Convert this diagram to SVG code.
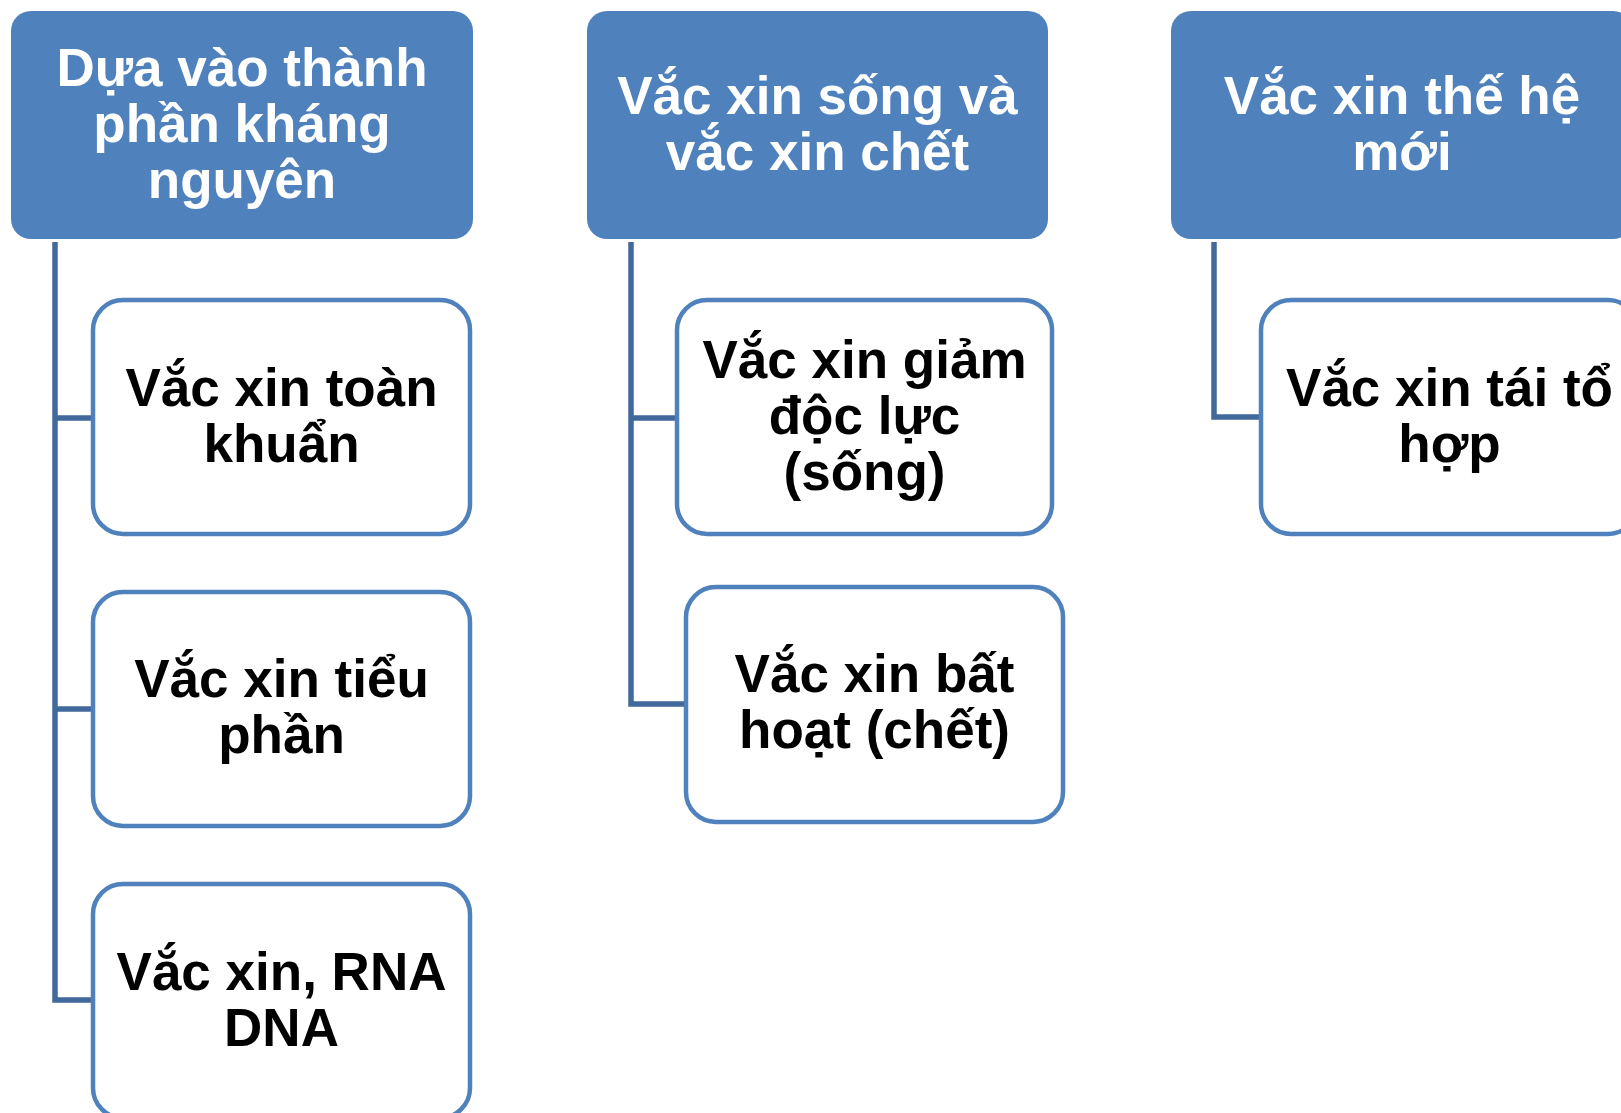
<svg xmlns="http://www.w3.org/2000/svg" width="1621" height="1113" viewBox="0 0 1621 1113">
<style>
.hdr{fill:#4F81BD;stroke:none}
.child{fill:#FFFFFF;stroke:#4F81BD;stroke-width:4.5}
.conn{fill:none;stroke:#41699B;stroke-width:5.5;stroke-linejoin:miter}
text{font-family:"Liberation Sans",Arial,sans-serif;font-weight:bold;font-size:53px;text-anchor:middle}
.ht{fill:#FFFFFF}
.ct{fill:#000000}
</style>
<rect width="1621" height="1113" fill="#FFFFFF"/>
<g id="connectors">
<path class="conn" d="M55,242 V1000 H93 M55,418 H93 M55,709 H93"/>
<path class="conn" d="M631,242 V704 H686 M631,418 H677"/>
<path class="conn" d="M1214,242 V417 H1261"/>
</g>
<g id="header1">
<rect class="hdr" x="11" y="11" width="462" height="228" rx="20"/>
<text class="ht" x="242" y="86">Dựa vào thành</text>
<text class="ht" x="242" y="142">phần kháng</text>
<text class="ht" x="242" y="198">nguyên</text>
</g>
<g id="header2">
<rect class="hdr" x="587" y="11" width="461" height="228" rx="20"/>
<text class="ht" x="817.5" y="114">Vắc xin sống và</text>
<text class="ht" x="817.5" y="170">vắc xin chết</text>
</g>
<g id="header3">
<rect class="hdr" x="1171" y="11" width="462" height="228" rx="20"/>
<text class="ht" x="1402" y="114">Vắc xin thế hệ</text>
<text class="ht" x="1402" y="170">mới</text>
</g>
<g id="child1a">
<rect class="child" x="93" y="300" width="377" height="234" rx="30"/>
<text class="ct" x="281.5" y="406">Vắc xin toàn</text>
<text class="ct" x="281.5" y="462">khuẩn</text>
</g>
<g id="child1b">
<rect class="child" x="93" y="592" width="377" height="234" rx="30"/>
<text class="ct" x="281.5" y="697">Vắc xin tiểu</text>
<text class="ct" x="281.5" y="753">phần</text>
</g>
<g id="child1c">
<rect class="child" x="93" y="884" width="377" height="234" rx="30"/>
<text class="ct" x="281.5" y="990">Vắc xin, RNA</text>
<text class="ct" x="281.5" y="1046">DNA</text>
</g>
<g id="child2a">
<rect class="child" x="677" y="300" width="375" height="234" rx="30"/>
<text class="ct" x="864.5" y="378">Vắc xin giảm</text>
<text class="ct" x="864.5" y="434">độc lực</text>
<text class="ct" x="864.5" y="490">(sống)</text>
</g>
<g id="child2b">
<rect class="child" x="686" y="587" width="377" height="235" rx="30"/>
<text class="ct" x="874.5" y="692">Vắc xin bất</text>
<text class="ct" x="874.5" y="748">hoạt (chết)</text>
</g>
<g id="child3">
<rect class="child" x="1261" y="300" width="377" height="234" rx="30"/>
<text class="ct" x="1449.5" y="406">Vắc xin tái tổ</text>
<text class="ct" x="1449.5" y="462">hợp</text>
</g>
</svg>
